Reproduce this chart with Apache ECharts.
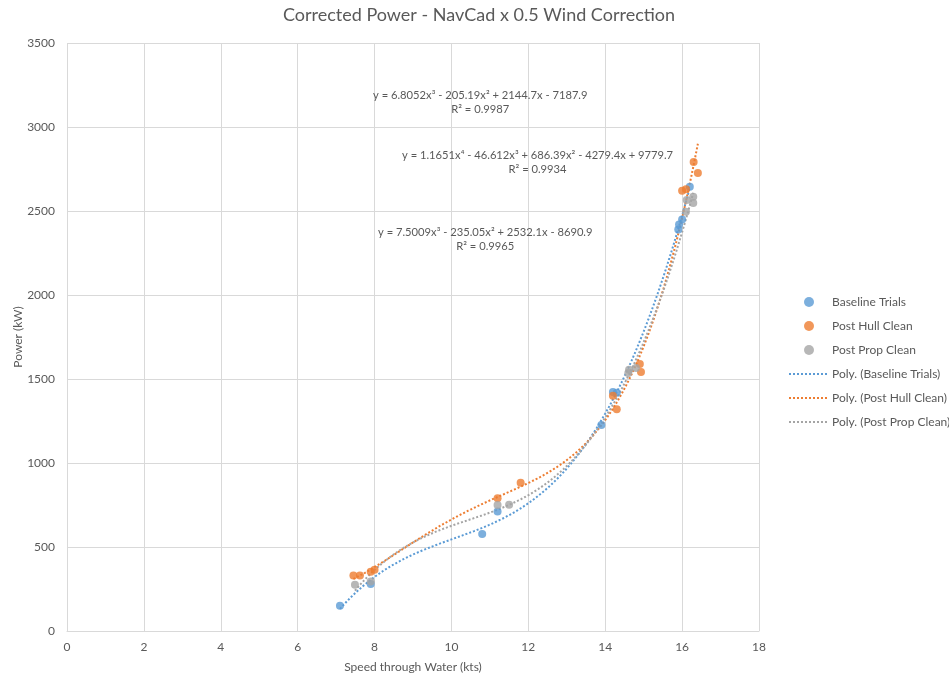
<!DOCTYPE html>
<html>
<head>
<meta charset="utf-8">
<script src="https://cdn.jsdelivr.net/npm/echarts@6/dist/echarts.min.js"></script>
<style>
  html, body { margin: 0; padding: 0; background: #fff; }
  #chart { width: 949px; height: 680px; }
</style>
</head>
<body>
<div id="chart"></div>
<script>
// Measured points: [speed through water (kts), corrected power (kW)]
const baselineTrials = [
  [7.1, 150], [7.9, 280], [10.8, 577], [11.2, 712], [13.9, 1226],
  [14.2, 1423], [14.3, 1418], [15.9, 2390], [15.92, 2420], [16.0, 2450], [16.2, 2645]
];
const postHullClean = [
  [7.45, 330], [7.62, 330], [7.9, 352], [8.0, 365], [11.2, 790], [11.8, 883],
  [14.2, 1400], [14.3, 1320], [14.9, 1589], [14.93, 1542],
  [16.0, 2620], [16.1, 2630], [16.3, 2792], [16.41, 2726]
];
const postPropClean = [
  [7.49, 275], [7.9, 295], [11.2, 750], [11.5, 752],
  [14.6, 1536], [14.62, 1555], [14.8, 1565],
  [16.1, 2495], [16.12, 2565], [16.29, 2585], [16.29, 2548]
];

// Polynomial trendline coefficients, highest power first
const baselineCoef = [6.8052, -205.19, 2144.7, -7187.9];
const hullCoef = [1.1651, -46.612, 686.39, -4279.4, 9779.7];
const propCoef = [7.5009, -235.05, 2532.1, -8690.9];

const baselineLabel = 'y = 6.8052x³ - 205.19x² + 2144.7x - 7187.9\nR² = 0.9987';
const hullLabel = 'y = 1.1651x⁴ - 46.612x³ + 686.39x² - 4279.4x + 9779.7\nR² = 0.9934';
const propLabel = 'y = 7.5009x³ - 235.05x² + 2532.1x - 8690.9\nR² = 0.9965';

const xTicks = { min: 0, max: 18, step: 2 };
const yTicks = { min: 0, max: 3500, step: 500 };

// Evaluate the fitted polynomial across the x-span of its series
function trend(coef, pts) {
  const xs = pts.map(p => p[0]);
  const x0 = Math.min(...xs), x1 = Math.max(...xs);
  const out = [];
  const n = 120;
  for (let i = 0; i <= n; i++) {
    const x = x0 + (x1 - x0) * i / n;
    let y = 0;
    for (const c of coef) y = y * x + c;
    out.push([x, y]);
  }
  return out;
}

const FONT = 'Lato, "Open Sans", sans-serif';
const TXT = '#595959';
const BLUE = '#5B9BD5', ORANGE = '#ED7D31', GRAY = '#A5A5A5';

const chart = echarts.init(document.getElementById('chart'), null, { renderer: 'canvas' });

function scatter(name, data, color) {
  return {
    name, type: 'scatter', data, symbol: 'circle', symbolSize: 8,
    itemStyle: { color }, z: 3
  };
}
function polyLine(name, data, color) {
  return {
    name, type: 'line', data, symbol: 'none', smooth: false,
    lineStyle: { color, width: 2, type: [2, 2] },
    itemStyle: { color },
    z: 2
  };
}
// Trendline legend entries show only the dotted stroke
const lineKey = name => ({ name, itemStyle: { color: 'rgba(0,0,0,0)', borderWidth: 0 } });

const eqStyle = text => ({ text, fill: TXT, font: '11.2px ' + FONT, textAlign: 'center', lineHeight: 14 });

chart.setOption({
  animation: false,
  textStyle: { fontFamily: FONT },
  title: {
    text: 'Corrected Power - NavCad x 0.5 Wind Correction',
    left: 474, top: 1, textAlign: 'center',
    textStyle: { fontFamily: FONT, fontSize: 18, fontWeight: 'normal', color: TXT }
  },
  grid: { left: 67, right: 190, top: 43, bottom: 49, outerBoundsMode: 'none', containLabel: false },
  legend: {
    orient: 'vertical', left: 783, top: 291,
    itemWidth: 40, itemHeight: 10, itemGap: 12,
    textStyle: { fontFamily: FONT, fontSize: 12, color: TXT, padding: [0, 0, 0, -2] },
    data: [
      'Baseline Trials', 'Post Hull Clean', 'Post Prop Clean',
      lineKey('Poly. (Baseline Trials)'), lineKey('Poly. (Post Hull Clean)'), lineKey('Poly. (Post Prop Clean)')
    ]
  },
  xAxis: {
    type: 'value', min: xTicks.min, max: xTicks.max, interval: xTicks.step,
    name: 'Speed through Water (kts)', nameLocation: 'middle', nameGap: 30,
    nameTextStyle: { fontFamily: FONT, fontSize: 12, color: TXT },
    axisLine: { show: true, lineStyle: { color: '#d9d9d9' } },
    axisTick: { show: false },
    axisLabel: { color: TXT, fontSize: 12, margin: 10 },
    splitLine: { show: true, lineStyle: { color: '#d9d9d9', width: 1 } }
  },
  yAxis: {
    type: 'value', min: yTicks.min, max: yTicks.max, interval: yTicks.step,
    name: 'Power (kW)', nameLocation: 'middle', nameGap: 43, nameRotate: 90,
    nameMoveOverlap: false,
    nameTextStyle: { fontFamily: FONT, fontSize: 12, color: TXT },
    axisLine: { show: false },
    axisTick: { show: false },
    axisLabel: { color: TXT, fontSize: 12, margin: 12, formatter: v => String(v) },
    splitLine: { show: true, lineStyle: { color: '#d9d9d9', width: 1 } }
  },
  graphic: [
    { type: 'text', left: 373, top: 88, z: 10, style: eqStyle(baselineLabel) },
    { type: 'text', left: 402, top: 148, z: 10, style: eqStyle(hullLabel) },
    { type: 'text', left: 378, top: 225, z: 10, style: eqStyle(propLabel) }
  ],
  series: [
    scatter('Baseline Trials', baselineTrials, BLUE),
    scatter('Post Hull Clean', postHullClean, ORANGE),
    scatter('Post Prop Clean', postPropClean, GRAY),
    polyLine('Poly. (Baseline Trials)', trend(baselineCoef, baselineTrials), BLUE),
    polyLine('Poly. (Post Hull Clean)', trend(hullCoef, postHullClean), ORANGE),
    polyLine('Poly. (Post Prop Clean)', trend(propCoef, postPropClean), GRAY)
  ]
});
</script>
</body>
</html>
